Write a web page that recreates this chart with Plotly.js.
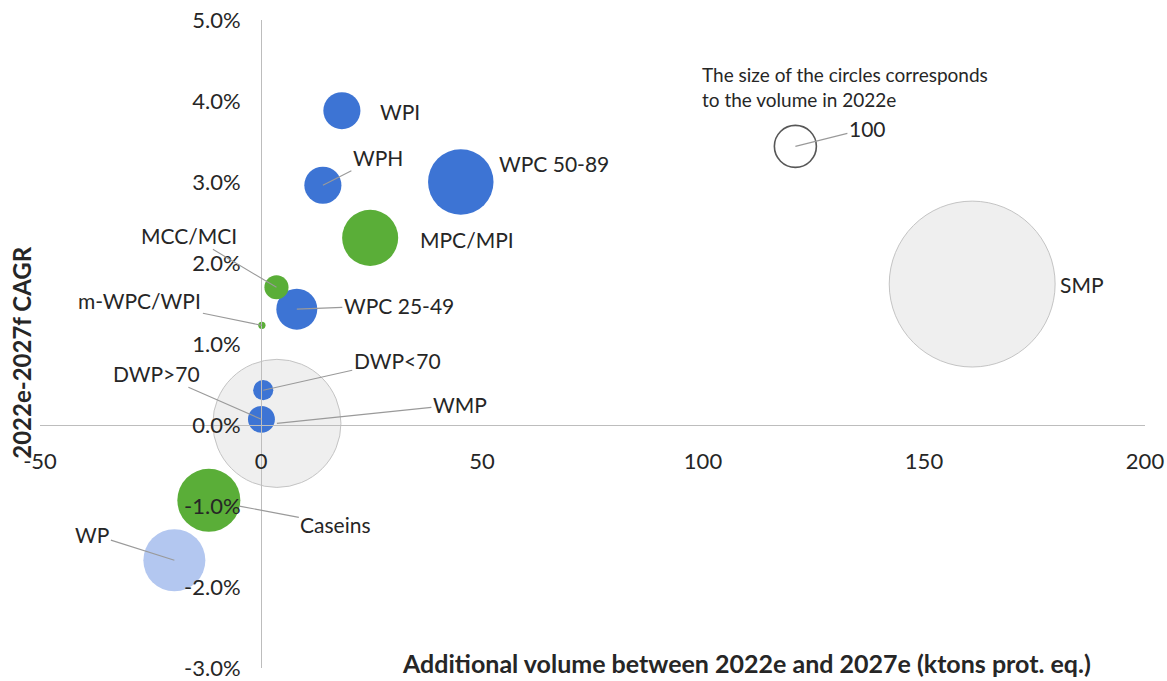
<!DOCTYPE html>
<html>
<head>
<meta charset="utf-8">
<script src="https://cdn.plot.ly/plotly-3.0.1.min.js"></script>
<style>html,body{margin:0;padding:0;background:#fff;}#chart{width:1167px;height:681px;}</style>
</head>
<body>
<div id="chart"></div>
<script>
// ---- data ----
const products = ["SMP","WMP","WP","Caseins","DWP>70","DWP<70","m-WPC/WPI","WPC 25-49","MCC/MCI","MPC/MPI","WPH","WPC 50-89","WPI"];
const additionalVolume = [160.9, 3.6, -19.6, -11.8, 0.1, 0.5, 0.2, 8.1, 3.5, 24.7, 14.0, 45.2, 18.3];
const cagr = [0.0174, 0.0002, -0.0167, -0.0093, 0.0007, 0.0043, 0.0123, 0.0143, 0.0170, 0.0231, 0.0296, 0.0300, 0.0388];
const volume2022 = [1560, 930, 218, 225, 41, 23, 3, 95, 33, 178, 78, 243, 78];
const group = ["commodity","commodity","permeate","milk","whey","whey","milk","whey","milk","milk","whey","whey","whey"];
const keyLabel = ["100"];
const keyVolume = [100];
const keyX = [120.9];
const keyY = [0.0344];
const xTicks = [-50, 0, 50, 100, 150, 200];
const yTicks = [-0.03, -0.02, -0.01, 0, 0.01, 0.02, 0.03, 0.04, 0.05];
const yTickLabels = ["-3.0%", "-2.0%", "-1.0%", "0.0%", "1.0%", "2.0%", "3.0%", "4.0%", "5.0%"];

// ---- styles ----
const FONT = "Lato, Carlito, Calibri, 'Open Sans', sans-serif";
const TXT = "#262626";
const groupColor = {commodity: "rgba(236,236,236,0.85)", permeate: "#b3c7f0", milk: "#5aae38", whey: "#3d74d4"};
const groupLine = {commodity: {color: "#c4c4c4", width: 1}, permeate: {color: "#b3c7f0", width: 0}, milk: {color: "#5aae38", width: 0}, whey: {color: "#3d74d4", width: 0}};
const sizeref = 2 * 100 / (42 * 42);
const LBL = 21;

// label placement (pixel offsets from the bubble centre)
const labelStyle = {
  "SMP": {mode: "side", dx: 86, dy: 0},
  "WMP": {mode: "arrow", ax: 183, ay: -19},
  "WP": {mode: "arrow", ax: -82, ay: -26},
  "Caseins": {mode: "arrow", ax: 127, ay: 24, standoff: 31},
  "DWP>70": {mode: "arrow", ax: -105, ay: -46},
  "DWP<70": {mode: "arrow", ax: 134, ay: -30},
  "m-WPC/WPI": {mode: "arrow", ax: -122, ay: -25},
  "WPC 25-49": {mode: "arrow", ax: 102, ay: -4},
  "MCC/MCI": {mode: "arrow", ax: -87, ay: -52},
  "MPC/MPI": {mode: "side", dx: 48, dy: -2},
  "WPH": {mode: "arrow", ax: 55, ay: -28},
  "WPC 50-89": {mode: "side", dx: 36, dy: 19},
  "WPI": {mode: "side", dx: 36, dy: -1}
};

// build traces: large commodity bubbles first so others sit on top
const order = products.map((p, i) => i).sort((a, b) => (group[a] === "commodity" ? 0 : 1) - (group[b] === "commodity" ? 0 : 1));
const traces = [{
  type: "scatter", mode: "markers",
  x: order.map(i => additionalVolume[i]),
  y: order.map(i => cagr[i]),
  text: order.map(i => products[i]),
  hoverinfo: "text",
  marker: {
    size: order.map(i => volume2022[i]),
    sizemode: "area", sizeref: sizeref, sizemin: 2,
    color: order.map(i => groupColor[group[i]]),
    line: {color: order.map(i => groupLine[group[i]].color), width: order.map(i => groupLine[group[i]].width)},
    opacity: 1
  },
  showlegend: false
}, {
  type: "scatter", mode: "markers",
  x: keyX, y: keyY,
  marker: {size: keyVolume, sizemode: "area", sizeref: sizeref, color: "rgba(255,255,255,0)", line: {color: "#111", width: 1.6}},
  hoverinfo: "skip", showlegend: false
}];

const annotations = [];
products.forEach((p, i) => {
  const s = labelStyle[p];
  if (s.mode === "arrow") {
    annotations.push({
      x: additionalVolume[i], y: cagr[i], xref: "x", yref: "y",
      text: p, showarrow: true, arrowhead: 0, arrowwidth: 1.1, arrowcolor: "#9a9a9a",
      ax: s.ax, ay: s.ay, standoff: s.standoff || 0,
      font: {family: FONT, size: LBL, color: TXT}
    });
  } else {
    annotations.push({
      x: additionalVolume[i], y: cagr[i], xref: "x", yref: "y",
      text: p, showarrow: false, xanchor: "left", yanchor: "middle",
      xshift: s.dx, yshift: s.dy,
      font: {family: FONT, size: LBL, color: TXT}
    });
  }
});
annotations.push({
  x: keyX[0], y: keyY[0], xref: "x", yref: "y",
  text: keyLabel[0], showarrow: true, arrowhead: 0, arrowwidth: 1.1, arrowcolor: "#9a9a9a",
  ax: 72, ay: -18, standoff: 0,
  font: {family: FONT, size: LBL, color: TXT}
});
annotations.push({
  x: 0.597, y: 0.896, xref: "paper", yref: "paper", xanchor: "left", yanchor: "middle", align: "left",
  text: "The size of the circles corresponds<br>to the volume in 2022e", showarrow: false,
  font: {family: FONT, size: 19, color: TXT}
});
annotations.push({
  x: 0.639, y: 0.0075, xref: "paper", yref: "paper", xanchor: "center", yanchor: "middle",
  text: "<b>Additional volume between 2022e and 2027e (ktons prot. eq.)</b>", showarrow: false,
  font: {family: FONT, size: 25, color: TXT}
});
annotations.push({
  x: -0.0163, y: 0.488, xref: "paper", yref: "paper", xanchor: "center", yanchor: "middle",
  text: "<b>2022e-2027f CAGR</b>", showarrow: false, textangle: -90,
  font: {family: FONT, size: 24, color: TXT}
});

const layout = {
  width: 1167, height: 681,
  margin: {l: 40, r: 22, t: 20, b: 13},
  paper_bgcolor: "#fff", plot_bgcolor: "#fff",
  font: {family: FONT, size: 21, color: TXT},
  showlegend: false,
  xaxis: {
    range: [-50, 200], tickvals: xTicks, ticktext: xTicks.map(String),
    showgrid: false, zeroline: false, showline: true, linecolor: "#bdbdbd", linewidth: 1,
    anchor: "free", position: 0.375, ticks: "", ticklabelstandoff: 17,
    tickfont: {family: FONT, size: 22, color: TXT}
  },
  yaxis: {
    range: [-0.03, 0.05], tickvals: yTicks, ticktext: yTickLabels,
    showgrid: false, zeroline: false, showline: true, linecolor: "#bdbdbd", linewidth: 1,
    anchor: "free", position: 0.2, ticks: "", ticklabelstandoff: 16,
    tickfont: {family: FONT, size: 22, color: TXT}
  },
  annotations: annotations
};

Plotly.newPlot("chart", traces, layout, {displayModeBar: false, staticPlot: true});
</script>
</body>
</html>
